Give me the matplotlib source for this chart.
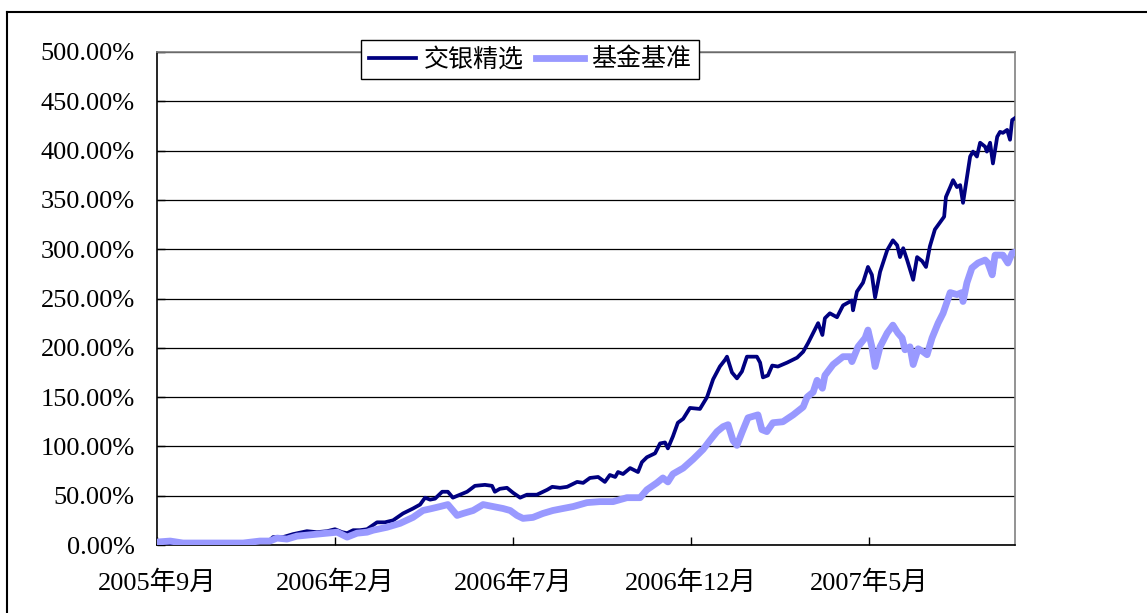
import matplotlib
matplotlib.use("Agg")
import matplotlib.pyplot as plt
from matplotlib.lines import Line2D

plt.rcParams['font.family'] = ['Liberation Serif', 'Noto Sans CJK SC', 'DejaVu Sans']

# ---- data: x = months since 2005-09, y = cumulative return (%) ----
dark_x = [0.00, 0.37, 0.73, 1.49, 2.25, 2.61, 2.98, 3.17, 3.26, 3.54, 3.82, 4.21, 4.49, 4.78,
          5.00, 5.20, 5.34, 5.51, 5.70, 5.90, 6.18, 6.40, 6.63, 6.91, 7.19, 7.39, 7.53, 7.67,
          7.81, 8.01, 8.17, 8.31, 8.51, 8.71, 8.93, 9.21, 9.41, 9.49, 9.63, 9.83, 10.00, 10.20,
          10.39, 10.67, 10.96, 11.10, 11.32, 11.52, 11.80, 11.97, 12.16, 12.39, 12.58, 12.72,
          12.87, 12.95, 13.09, 13.29, 13.51, 13.62, 13.76, 13.99, 14.13, 14.27, 14.35, 14.49,
          14.63, 14.78, 14.97, 15.25, 15.45, 15.62, 15.81, 15.96, 16.01, 16.15, 16.29, 16.43,
          16.57, 16.85, 16.94, 17.02, 17.16, 17.28, 17.44, 17.70, 17.98, 18.15, 18.29, 18.43,
          18.57, 18.69, 18.76, 18.90, 19.10, 19.27, 19.52, 19.55, 19.66, 19.83, 19.97, 20.08,
          20.17, 20.31, 20.51, 20.67, 20.79, 20.87, 20.96, 21.07, 21.24, 21.35, 21.49, 21.60,
          21.71, 21.85, 21.99, 22.11, 22.16, 22.28, 22.36, 22.47, 22.56, 22.64, 22.75, 22.84,
          22.92, 23.03, 23.12, 23.26, 23.31, 23.40, 23.48, 23.60, 23.68, 23.76, 23.88, 23.96,
          24.02, 24.10]
dark_y = [3, 2, 1, 0, 1, 3, 4, 5, 8, 8, 11, 14, 13, 14,
          16, 13, 12, 15, 15, 16, 23, 23, 25, 32, 37, 41, 48, 46,
          47, 54, 54, 48, 51, 54, 60, 61, 60, 54, 57, 58, 53, 48,
          51, 51, 56, 59, 58, 59, 64, 63, 68, 69, 64, 71,
          69, 74, 72, 78, 74, 84, 89, 93, 103, 104, 98, 110,
          124, 128, 139, 138, 150, 168, 181, 188, 191, 175, 169, 176,
          191, 191, 185, 170, 172, 182, 181, 185, 190, 196, 205, 215,
          225, 213, 230, 235, 231, 243, 248, 238, 257, 266, 282, 274,
          251, 277, 299, 309, 304, 292, 301, 289, 269, 292, 288, 282,
          303, 320, 327, 333, 353, 363, 370, 363, 365, 347, 373, 394,
          399, 394, 408, 404, 399, 408, 387, 414, 419, 418, 421, 411,
          431, 433]

light_x = [0.00, 0.37, 0.73, 1.69, 2.42, 2.89, 3.17, 3.37, 3.65, 3.93, 4.49, 5.06, 5.34, 5.62,
           5.90, 6.07, 6.46, 6.83, 7.19, 7.47, 7.72, 7.95, 8.17, 8.43, 8.60, 8.88, 9.16, 9.44,
           9.72, 9.92, 10.11, 10.28, 10.56, 10.84, 11.12, 11.40, 11.69, 12.08, 12.44, 12.81,
           13.20, 13.57, 13.76, 14.04, 14.21, 14.35, 14.49, 14.78, 15.06, 15.34, 15.53, 15.73,
           15.90, 16.04, 16.18, 16.29, 16.43, 16.60, 16.88, 16.99, 17.13, 17.30, 17.58, 17.87,
           18.15, 18.26, 18.43, 18.54, 18.69, 18.76, 18.99, 19.27, 19.47, 19.52, 19.69, 19.89,
           19.97, 20.08, 20.17, 20.31, 20.51, 20.67, 20.81, 20.93, 21.01, 21.15, 21.24, 21.38,
           21.52, 21.63, 21.77, 21.94, 22.08, 22.28, 22.47, 22.61, 22.64, 22.75, 22.89, 23.06,
           23.26, 23.34, 23.46, 23.54, 23.76, 23.90, 24.02, 24.10]
light_y = [3, 4, 2, 2, 2, 4, 4, 7, 6, 9, 11, 13, 8, 12,
           13, 15, 18, 22, 28, 35, 37, 39, 41, 30, 32, 35, 41, 39,
           37, 35, 30, 27, 28, 32, 35, 37, 39, 43, 44, 44,
           48, 48, 56, 63, 68, 64, 72, 78, 87, 97, 106, 115,
           120, 122, 106, 101, 114, 129, 132, 117, 115, 124, 125, 132,
           140, 150, 155, 167, 159, 172, 183, 191, 191, 186, 201, 210,
           218, 201, 181, 201, 215, 223, 215, 210, 198, 201, 183, 199,
           196, 193, 210, 225, 235, 256, 254, 256, 247, 266, 281, 286,
           289, 286, 274, 294, 294, 286, 296, 297]

series_names = ['交银精选', '基金基准']
tick_months = [0, 5, 10, 15, 20]
tick_labels = ['2005年9月', '2006年2月', '2006年7月', '2006年12月', '2007年5月']
y_ticks = [0, 50, 100, 150, 200, 250, 300, 350, 400, 450, 500]

fig = plt.figure(figsize=(11.47, 6.13), dpi=100)
ax = fig.add_axes([157/1147, 1-545/613, (1015-157)/1147, (545-52)/613])

ax.plot(dark_x, dark_y, color='#000080', lw=2.7, solid_joinstyle='round', label=series_names[0], zorder=3)
ax.plot(light_x, light_y, color='#9999FF', lw=4.9, solid_joinstyle='round', label=series_names[1], zorder=4)

ax.set_xlim(0, 24.1)
ax.set_ylim(0, 500)
ax.set_yticks(y_ticks)
ax.set_yticklabels([f'{v:.2f}%' for v in y_ticks])
ax.set_xticks(tick_months)
ax.set_xticklabels(tick_labels)
ax.tick_params(axis='both', direction='in', length=6, width=1, color='black', labelsize=19)
ax.tick_params(axis='y', pad=16)
ax.tick_params(axis='x', pad=18)

ax.yaxis.grid(True, color='black', lw=0.9)
ax.set_axisbelow(True)
for s in ['top', 'right']:
    ax.spines[s].set_color('#808080')
    ax.spines[s].set_linewidth(1.2)
for s in ['left', 'bottom']:
    ax.spines[s].set_color('black')
    ax.spines[s].set_linewidth(1.2)

leg = ax.legend(loc='center', bbox_to_anchor=(0.435, 0.985), ncol=2, fontsize=18,
                frameon=True, fancybox=False, edgecolor='black', framealpha=1,
                handlelength=1.9, handletextpad=0.3, columnspacing=0.5,
                borderpad=0.3, borderaxespad=0)
leg.get_frame().set_linewidth(1.0)
leg.set_zorder(10)

# outer chart border (right/bottom edges fall outside the image)
fig.add_artist(Line2D([7/1147, 1.0], [1-12/613, 1-12/613], transform=fig.transFigure, color='black', lw=1.5))
fig.add_artist(Line2D([7/1147, 7/1147], [0.0, 1-12/613], transform=fig.transFigure, color='black', lw=1.5))

fig.savefig('out.png', dpi=100)
